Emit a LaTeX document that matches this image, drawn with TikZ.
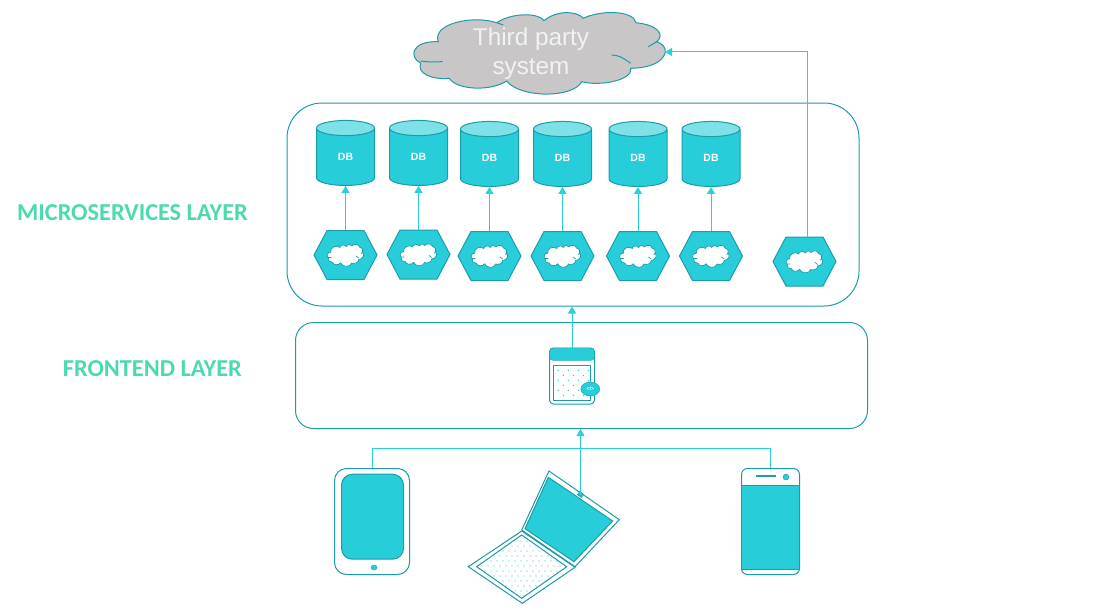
\documentclass[tikz,border=0pt]{standalone}
\usepackage{fontspec}
\setmainfont{Liberation Sans}
\newfontfamily\labelfont{Carlito}
\usepackage{xcolor}
\usetikzlibrary{arrows.meta,shapes.geometric}
\definecolor{tealfill}{HTML}{28CDDA}
\definecolor{tealline}{HTML}{1B9CA8}
\definecolor{capfill}{HTML}{7FE1E8}
\definecolor{linkcol}{HTML}{2BD0DD}
\definecolor{layergreen}{HTML}{4DD9B0}
\definecolor{cloudgrey}{HTML}{C8C6C6}
\begin{document}
\begin{tikzpicture}[
    x=1pt, y=-1pt,
    layerbox/.style={draw=tealline, line width=1pt, inner sep=0pt},
    layerlabel/.style={text=layergreen, inner sep=0pt, font=\labelfont\bfseries\fontsize{24.3}{28}\selectfont},
    dbbox/.style={shape=cylinder, shape border rotate=90, shape aspect=1, draw=tealline, line width=1pt,
        cylinder uses custom fill, cylinder body fill=tealfill, cylinder end fill=capfill,
        minimum width=58pt, minimum height=65pt, inner sep=0pt, text=white,
        font=\bfseries\fontsize{10.5}{12}\selectfont},
    hexbox/.style={minimum width=63pt, minimum height=49pt, inner sep=0pt},
    device/.style={draw=tealline, line width=1pt, fill=white, inner sep=0pt},
    screen/.style={draw=tealline, line width=1pt, fill=tealfill, inner sep=0pt},
    arrow/.style={-{Triangle[length=7pt,width=8pt]}, draw=linkcol, line width=1pt},
    link/.style={draw=linkcol, line width=1pt},
    cloudpic/.pic={
        \path[pic actions] (-101.7,-10.3) .. controls (-108.3,-28.7) and (-66.7,-37) .. (-43.3,-29.3)
            .. controls (-26.7,-40.3) and (0,-38.7) .. (4,-31.3)
            .. controls (16.7,-42) and (36.7,-41.3) .. (43.3,-33.7)
            .. controls (60,-42) and (93.3,-42) .. (96,-29.3)
            .. controls (118.3,-27) and (125,-17) .. (116.7,-10.3)
            .. controls (126.7,-7) and (126.7,1.3) .. (123.3,4.7)
            .. controls (118.3,13) and (103.3,16.3) .. (90.7,16.3)
            .. controls (93.3,28) and (60,34.7) .. (41.7,29.7)
            .. controls (33.3,46.3) and (-20,46.3) .. (-33.3,29)
            .. controls (-50,39.7) and (-83.3,38) .. (-90.7,26.3)
            .. controls (-108.3,28) and (-123.3,21.3) .. (-119.3,11.3)
            .. controls (-131.7,4.7) and (-128.3,-11.3) .. (-101.7,-10.3) -- cycle;
        \path[pic actions, fill=none] (-119.3,9) .. controls (-112,10) .. (-97.3,9.7);
        \path[pic actions, fill=none] (71.7,3) .. controls (80,4) .. (90.7,11.3);
        \path[pic actions, fill=none] (108.3,-5.3) -- (116.7,-10.3);
        \path[pic actions, fill=none] (-43.3,-29.3) -- (-36.7,-27);
    },
    hexpic/.pic={
        \draw[draw=tealline, line width=1pt, fill=tealfill] (-31.5,0) -- (-18.5,-24.5) -- (18.5,-24.5)
            -- (31.5,0) -- (18.5,24.5) -- (-18.5,24.5) -- cycle;
        \pic[draw=tealline, line width=0.7pt, fill=white, xscale=0.145, yscale=0.27] at (0,0) {cloudpic};
    }
]
\useasboundingbox (0,0) rectangle (1094,610);
% layers
\node[layerbox, rounded corners=35pt, minimum width=572pt, minimum height=203pt] (mslayer) at (573,204.5) {};
\node[layerbox, rounded corners=18pt, minimum width=572pt, minimum height=106pt] (felayer) at (581.5,375.5) {};
\node[layerlabel, anchor=west] (mslabel) at (17,212.5) {MICROSERVICES LAYER};
\node[layerlabel, anchor=east] (felabel) at (242,368.5) {FRONTEND LAYER};

% third party
\pic[draw=tealline, line width=1pt, fill=cloudgrey] at (540,52) {cloudpic};
\node[minimum width=250pt, minimum height=60pt, inner sep=0pt, align=center, text=white!95!black,
    font=\fontsize{24.3}{29}\selectfont] (third) at (531,54) {Third party\\system};
\coordinate (thirdtip) at (665,52);

% services and their databases
\foreach \name/\cx/\dby/\hexy in {a/345.5/157/255, b/418.5/157/254.5, c/489.5/158/256,
    d/562.5/158/256, e/638/158/256, f/711/158/256} {
    \node[dbbox] (db\name) at (\cx,\dby) {DB};
    \pic at (\cx,\hexy) {hexpic};
    \node[hexbox] (svc\name) at (\cx,\hexy) {};
    \draw[arrow] (svc\name.north) -- (db\name.south);
}
\pic at (804.5,261.5) {hexpic};
\node[hexbox] (svcg) at (804.5,261.5) {};
\draw[arrow] ([xshift=2.5pt]svcg.north) |- (thirdtip);

% frontend app
\node[device, rounded corners=4pt, minimum width=45pt, minimum height=56pt] (app) at (572,376) {};
\fill[tealfill, draw=tealline, rounded corners=4pt] (549.5,360.5) -- (549.5,348) -- (594.5,348) -- (594.5,360.5) -- cycle;
\draw[draw=tealline, line width=1pt] (553.5,365) rectangle (590.5,400.5);
\foreach \i in {0,...,3} {
    \foreach \j in {0,...,2} {
        \fill[tealfill!80!tealline] (558.3+\i*10,370.3+\j*10) circle (0.7);
    }
}
\foreach \i in {0,...,2} {
    \foreach \j in {0,...,2} {
        \fill[tealfill!80!tealline] (563.3+\i*10,375.3+\j*10) circle (0.7);
    }
}
\node[ellipse, draw=tealline, fill=tealfill, minimum width=19pt, minimum height=14pt, inner sep=0pt,
    text=white, font=\bfseries\fontsize{5}{6}\selectfont] (badge) at (590.3,389) {</>};
\draw[arrow] (app.north) -- (app.north |- mslayer.south);

% tablet
\node[device, rounded corners=12pt, minimum width=75pt, minimum height=106pt] (tablet) at (372,521.5) {};
\node[screen, rounded corners=11pt, minimum width=62pt, minimum height=85pt] (tabscreen) at (372.5,516.7) {};
\node[ellipse, draw=tealline, fill=tealfill, minimum width=6pt, minimum height=5pt, inner sep=0pt] (tabbutton) at (374,567.5) {};

% phone
\node[device, rounded corners=6pt, minimum width=58pt, minimum height=106pt] (phone) at (770.5,521.5) {};
\node[screen, minimum width=58pt, minimum height=84pt] (phonescreen) at (770.5,527.3) {};
\node[circle, draw=tealline, fill=tealfill, minimum size=6pt, inner sep=0pt] (camera) at (786,477) {};
\draw[draw=tealline, line width=2pt] (756,476) -- (776,476);

% laptop
\draw[draw=tealline, line width=1pt, fill=white] (521.7,530) -- (549,471) -- (619.3,519.7) -- (575,566.7) -- cycle;
\draw[draw=tealline, line width=1pt, fill=tealfill] (548.3,477.3) -- (612.7,521) -- (574,561.7) -- (525,528.7) -- cycle;
\draw[draw=tealline, line width=1pt, fill=white] (521.7,531) -- (468.3,566.7) -- (522.3,603.3) -- (575,567.3) -- cycle;
\begin{scope}
\draw[draw=tealline, line width=1pt] (521.7,535) -- (476.7,566.7) -- (521.7,598.3) -- (566.7,566.7) -- cycle;
\clip (521.7,536) -- (478,566.7) -- (521.7,597.3) -- (565.4,566.7) -- cycle;
\foreach \i in {0,...,15} {
    \foreach \j in {0,...,6} {
        \fill[tealfill!80!tealline] (476+\i*6,536+\j*10) circle (0.7);
        \fill[tealfill!80!tealline] (479+\i*6,541+\j*10) circle (0.7);
    }
}
\end{scope}
\node[draw=tealline, fill=tealfill!70!tealline, rotate=-35, minimum width=5pt, minimum height=4pt, inner sep=0pt] (webcam) at (580.5,494.5) {};

% client connections
\draw[link] (tablet.north) -- ++(0,-20) -| (phone.north);
\draw[arrow] (webcam.center) -- (webcam.center |- felayer.south);
\end{tikzpicture}
\end{document}
